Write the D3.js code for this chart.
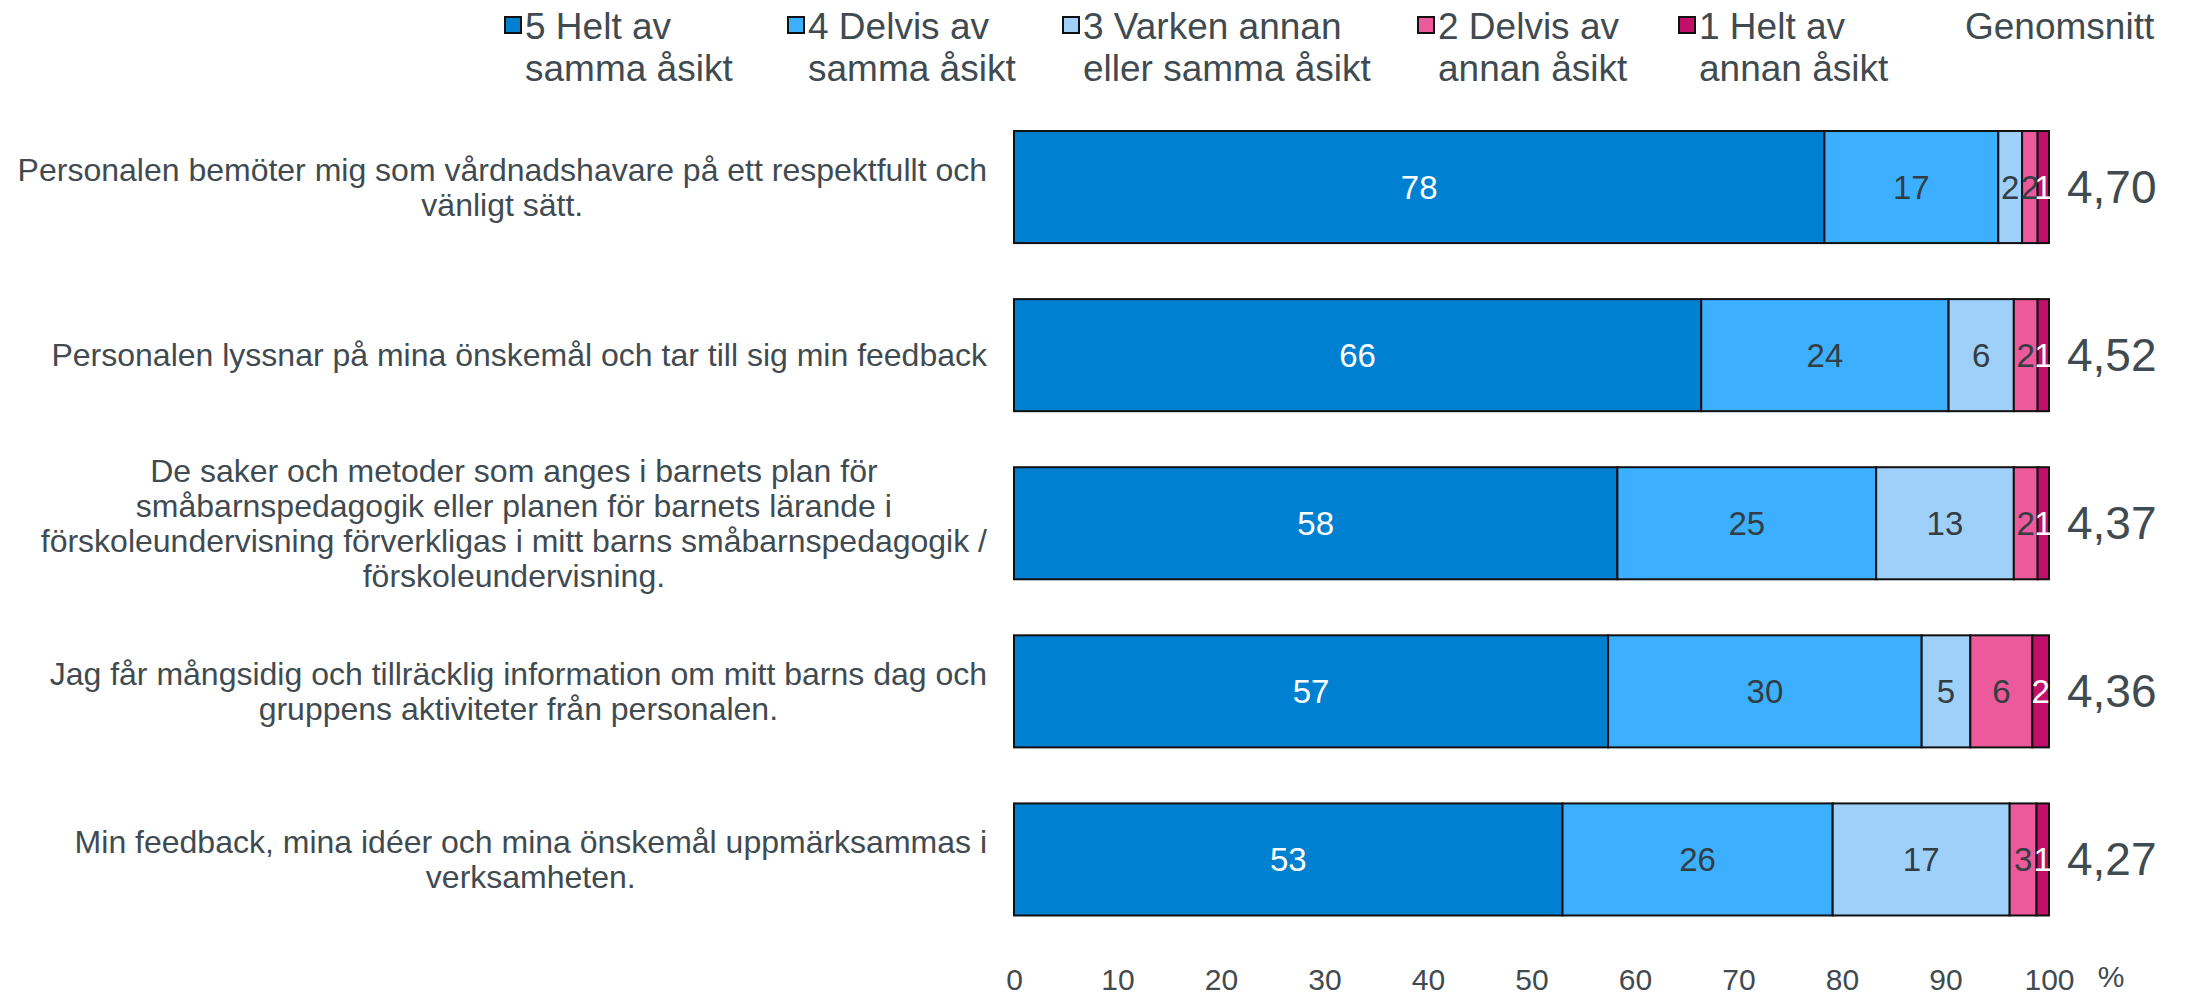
<!DOCTYPE html>
<html><head><meta charset="utf-8">
<script src="https://cdn.jsdelivr.net/npm/d3@7"></script>
<style>
html,body{margin:0;padding:0;background:#fff;}
svg{display:block;font-family:"Liberation Sans",Arial,sans-serif;}
</style></head>
<body><svg id="c" width="2188" height="998"></svg>
<script>
const categories = [
  ["Personalen bemöter mig som vårdnadshavare på ett respektfullt och","vänligt sätt."],
  ["Personalen lyssnar på mina önskemål och tar till sig min feedback"],
  ["De saker och metoder som anges i barnets plan för","småbarnspedagogik eller planen för barnets lärande i","förskoleundervisning förverkligas i mitt barns småbarnspedagogik /","förskoleundervisning."],
  ["Jag får mångsidig och tillräcklig information om mitt barns dag och","gruppens aktiviteter från personalen."],
  ["Min feedback, mina idéer och mina önskemål uppmärksammas i","verksamheten."]
];
const seriesNames = [["5 Helt av","samma åsikt"],["4 Delvis av","samma åsikt"],["3 Varken annan","eller samma åsikt"],["2 Delvis av","annan åsikt"],["1 Helt av","annan åsikt"]];
const s5 = [78.3, 66.4, 58.3, 57.4, 53.0];
const s4 = [16.8, 23.9, 25.0, 30.3, 26.1];
const s3 = [2.3, 6.3, 13.3, 4.7, 17.1];
const s2 = [1.5, 2.3, 2.3, 6.0, 2.6];
const s1 = [1.1, 1.1, 1.1, 1.6, 1.2];
const averages = ["4,70","4,52","4,37","4,36","4,27"];
const xTicks = [0,10,20,30,40,50,60,70,80,90,100];
const averageTitle = "Genomsnitt";
const unitLabel = "%";

const colors = ["#0080d0","#3cb0ff","#9fd0fa","#ec5a9c","#c20f6a"];
const labelColors = ["#ffffff","#333d42","#333d42","#333d42","#ffffff"];
const textColor = "#3f4b50";
const series = [s5,s4,s3,s2,s1];

const svg = d3.select("#c");
const x = d3.scaleLinear().domain([0,100]).range([1014,2049]);
const y = d3.scaleBand().domain(d3.range(categories.length)).range([103,943.5]).paddingInner(1/3).paddingOuter(1/6);

// bars
const stackData = categories.map((c,i)=>{
  let acc=0; return series.map((s,k)=>{const d={i,k,x0:acc,x1:acc+s[i],v:s[i]}; acc+=s[i]; return d;});
});
const g = svg.append("g");
stackData.forEach(row=>{
  g.selectAll(null).data(row).enter().append("rect")
   .attr("x",d=>x(d.x0)).attr("width",d=>x(d.x1)-x(d.x0))
   .attr("y",d=>y(d.i)).attr("height",y.bandwidth())
   .attr("fill",d=>colors[d.k]).attr("stroke","#111").attr("stroke-width",2);
  g.selectAll(null).data(row).enter().append("text")
   .attr("x",d=>(x(d.x0)+x(d.x1))/2).attr("y",d=>y(d.i)+y.bandwidth()/2)
   .attr("text-anchor","middle").attr("dominant-baseline","central")
   .attr("font-size",33).attr("fill",d=>labelColors[d.k])
   .text(d=>Math.round(d.v));
});

// averages
svg.selectAll(".avg").data(averages).enter().append("text")
  .attr("x",2067).attr("y",(d,i)=>y(i)+y.bandwidth()/2)
  .attr("dominant-baseline","central").attr("font-size",46).attr("fill",textColor).text(d=>d);

// category labels
const lh = 35;
categories.forEach((lines,i)=>{
  const cy = y(i)+y.bandwidth()/2;
  const grp = svg.append("g");
  const ts = lines.map((l,j)=>grp.append("text").attr("font-size",32).attr("fill",textColor)
     .attr("text-anchor","middle").attr("dominant-baseline","central")
     .attr("y",cy+(j-(lines.length-1)/2)*lh).text(l));
  const w = d3.max(ts,t=>t.node().getComputedTextLength());
  ts.forEach(t=>t.attr("x",987-w/2));
});

// axis
const ax = svg.append("g").attr("transform","translate(0,969)")
  .call(d3.axisBottom(x).tickValues(xTicks).tickSize(0).tickPadding(0).tickFormat(d3.format("d")));
ax.select(".domain").remove();
ax.selectAll("text").attr("font-size",30).attr("fill",textColor).attr("font-family","Liberation Sans, Arial, sans-serif").attr("dy","0.71em");
svg.append("text").attr("x",2111).attr("y",966).attr("dy","0.71em").attr("text-anchor","middle")
  .attr("font-size",30).attr("fill",textColor).text(unitLabel);

// legend
const legX = [505,788,1063,1418,1679];
const lg = svg.append("g");
seriesNames.forEach((nm,k)=>{
  lg.append("rect").attr("x",legX[k]).attr("y",17).attr("width",16).attr("height",16)
    .attr("fill",colors[k]).attr("stroke","#111").attr("stroke-width",2);
  nm.forEach((l,j)=>lg.append("text").attr("x",legX[k]+20).attr("y",39+j*42)
    .attr("font-size",37).attr("fill",textColor).text(l));
});
lg.append("text").attr("x",1965).attr("y",39).attr("font-size",37).attr("fill",textColor).text(averageTitle);
</script></body></html>
